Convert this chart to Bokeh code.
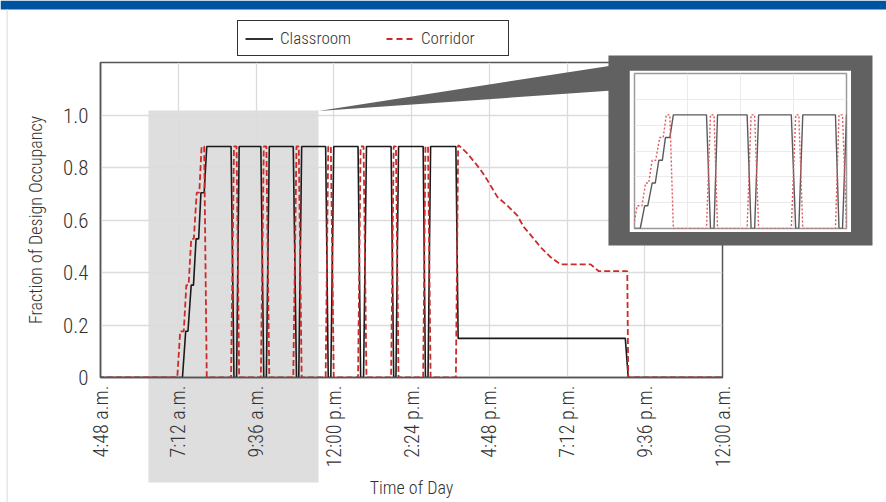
import math
from bokeh.plotting import figure
from bokeh.models import Range1d, FixedTicker, Legend, LegendItem, Grid
from bokeh.embed import file_html
from bokeh.resources import INLINE

# ---------------- data (hour of day, fraction of design occupancy) ----------------
classroom_hours = [0.0, 7.33, 7.43, 7.50, 7.60, 7.67, 7.75, 7.83, 7.90, 8.00, 8.08,
                   8.83, 8.92, 9.00, 9.08,
                   9.75, 9.84, 9.92, 10.01,
                   10.75, 10.85, 10.92, 11.01,
                   11.75, 11.83, 11.91, 12.00,
                   12.75, 12.83, 12.92, 13.01,
                   13.77, 13.85, 13.92, 14.00,
                   14.76, 14.83, 14.91, 14.99,
                   15.77, 15.84, 21.00, 21.09, 24.0]
classroom_frac = [0.0, 0.0, 0.176, 0.176, 0.352, 0.352, 0.528, 0.528, 0.704, 0.704, 0.88,
                  0.88, 0.0, 0.0, 0.88,
                  0.88, 0.0, 0.0, 0.88,
                  0.88, 0.0, 0.0, 0.88,
                  0.88, 0.0, 0.0, 0.88,
                  0.88, 0.0, 0.0, 0.88,
                  0.88, 0.0, 0.0, 0.88,
                  0.88, 0.0, 0.0, 0.88,
                  0.88, 0.149, 0.149, 0.0, 0.0]

corridor_hours = [0.0, 7.17, 7.26, 7.37, 7.45, 7.52, 7.60, 7.68, 7.77, 7.85, 7.92, 8.00, 8.08,
                  8.83, 8.92, 9.00, 9.08,
                  9.75, 9.84, 9.92, 10.01,
                  10.75, 10.85, 10.92, 11.01,
                  11.75, 11.83, 11.91, 12.00,
                  12.75, 12.83, 12.92, 13.01,
                  13.77, 13.85, 13.92, 14.00,
                  14.76, 14.83, 14.91, 14.99,
                  15.77, 15.84, 15.91, 16.12, 16.38, 16.58, 16.74, 17.05, 17.35, 17.66,
                  17.87, 18.13, 18.38, 18.69, 19.00, 19.93, 20.18, 21.06, 21.09, 24.0]
corridor_frac = [0.0, 0.0, 0.176, 0.176, 0.352, 0.352, 0.528, 0.528, 0.704, 0.704, 0.88, 0.88, 0.0,
                 0.0, 0.88, 0.88, 0.0,
                 0.0, 0.88, 0.88, 0.0,
                 0.0, 0.88, 0.88, 0.0,
                 0.0, 0.88, 0.88, 0.0,
                 0.0, 0.88, 0.88, 0.0,
                 0.0, 0.88, 0.88, 0.0,
                 0.0, 0.88, 0.88, 0.0,
                 0.0, 0.885, 0.879, 0.854, 0.815, 0.783, 0.752, 0.688, 0.656, 0.618,
                 0.573, 0.535, 0.497, 0.459, 0.431, 0.431, 0.405, 0.405, 0.0, 0.0]

x_ticks_hours = [4.8, 7.2, 9.6, 12.0, 14.4, 16.8, 19.2, 21.6, 24.0]
x_tick_labels = ["4:48 a.m.", "7:12 a.m.", "9:36 a.m.", "12:00 p.m.", "2:24 p.m.",
                 "4:48 p.m.", "7:12 p.m.", "9:36 p.m.", "12:00 a.m."]
y_ticks = [0.0, 0.2, 0.4, 0.6, 0.8, 1.0]
y_tick_labels = ["0", "0.2", "0.4", "0.6", "0.8", "1.0"]
series_names = ["Classroom", "Corridor"]

# highlighted (zoomed) window, connector and inset frame (hours / fraction units)
zoom_hours = [6.28, 11.53]
zoom_frac = [-0.40, 1.017]
inset_hours = [7.2, 12.0]
inset_grid_hours = [7.2, 8.4, 9.6, 10.8, 12.0]
inset_frame_hours = [20.48, 28.63]
inset_frame_frac = [0.503, 1.227]
connector_hours = [11.53, 20.60, 20.60]
connector_frac = [1.015, 1.189, 1.093]

# ---------------- layout constants (pixels) ----------------
W, H = 886, 502
FL, FR, FT, FB = 100, 722, 62, 377          # main plot frame
X0, X1, Y0, Y1 = 4.8, 24.0, 0.0, 1.2
kx = (X1 - X0) / (FR - FL)
ky = (Y1 - Y0) / (FB - FT)
page_x_range = (X0 - FL * kx, X1 + (W - FR) * kx)
page_y_range = (Y0 - (H - FB) * ky, Y1 + FT * ky)

FONT = ("'Roboto Condensed Light', 'Roboto Condensed', 'Liberation Sans Narrow', "
        "'DejaVu Sans Condensed', 'Noto Sans', sans-serif")
TXT = "#333333"
AX = "#555555"
BLACK = "#1a1a1a"
RED = "#cc2b2b"
DARK = "#616161"


def place(fig, left, top, w, h, z):
    fig.styles = {"position": "absolute", "left": f"{left}px", "top": f"{top}px",
                  "width": f"{w}px", "height": f"{h}px", "z-index": str(z)}


def page_figure(fill_alpha):
    f = figure(width=W, height=H, x_range=Range1d(*page_x_range), y_range=Range1d(*page_y_range),
               output_backend="svg", toolbar_location=None,
               x_axis_location=None, y_axis_location=None,
               min_border_left=0, min_border_right=0, min_border_top=0, min_border_bottom=0)
    f.outline_line_color = None
    f.background_fill_color = "white"
    f.background_fill_alpha = fill_alpha
    f.border_fill_color = "white"
    f.border_fill_alpha = fill_alpha
    f.grid.visible = False
    return f


# ---------------- background layer (under the chart) ----------------
bg = page_figure(1.0)
bg.quad(left=[page_x_range[0]], right=[page_x_range[1]], top=[page_y_range[1]],
        bottom=[page_y_range[1] - 9 * ky], fill_color="#00549f", line_color=None)
bg.quad(left=[page_x_range[0] + 6 * kx], right=[page_x_range[0] + 7.3 * kx],
        top=[page_y_range[1] - 9 * ky], bottom=[page_y_range[0]],
        fill_color="#e2e2e2", line_color=None)
bg.quad(left=[zoom_hours[0]], right=[zoom_hours[1]], top=[zoom_frac[1]], bottom=[zoom_frac[0]],
        fill_color="#dedede", line_color=None)
place(bg, 0, 0, W, H, 0)

# ---------------- main chart ----------------
p = figure(width=W, height=H, x_range=Range1d(X0, X1), y_range=Range1d(Y0, Y1),
           output_backend="svg", toolbar_location=None,
           min_border_left=FL, min_border_right=W - FR, min_border_top=FT, min_border_bottom=H - FB)
p.background_fill_alpha = 0
p.border_fill_alpha = 0
p.outline_line_color = AX
p.outline_line_width = 1.5

p.xaxis.ticker = FixedTicker(ticks=x_ticks_hours)
p.xaxis.major_label_overrides = dict(zip(x_ticks_hours, x_tick_labels))
p.xaxis.major_label_orientation = math.pi / 2
p.yaxis.ticker = FixedTicker(ticks=y_ticks)
p.yaxis.major_label_overrides = dict(zip(y_ticks, y_tick_labels))
for ax in (p.xaxis[0], p.yaxis[0]):
    ax.axis_line_color = AX
    ax.axis_line_width = 1.5
    ax.major_tick_line_color = None
    ax.minor_tick_line_color = None
    ax.major_tick_out = 0
    ax.major_tick_in = 0
    ax.minor_tick_out = 0
    ax.minor_tick_in = 0
    ax.major_label_text_font = FONT
    ax.major_label_text_font_size = "20px"
    ax.major_label_text_color = TXT
    ax.axis_label_text_font = FONT
    ax.axis_label_text_font_size = "18px"
    ax.axis_label_text_font_style = "normal"
    ax.axis_label_text_color = TXT
p.yaxis.major_label_text_font_size = "21px"
p.xaxis.axis_label = "Time of Day"
p.yaxis.axis_label = "Fraction of Design Occupancy"
p.xaxis.major_label_standoff = 8
p.yaxis.major_label_standoff = 12
p.xaxis.axis_label_standoff = 7
p.yaxis.axis_label_standoff = 14
p.xgrid.ticker = FixedTicker(ticks=x_ticks_hours)
p.ygrid.ticker = FixedTicker(ticks=y_ticks)
p.grid.grid_line_color = "#dcdcdc"
p.grid.grid_line_width = 1.3

p.line(classroom_hours, classroom_frac, line_color=BLACK, line_width=1.6)
p.line(corridor_hours, corridor_frac, line_color=RED, line_width=1.8, line_dash="6 3")
place(p, 0, 0, W, H, 1)

# ---------------- foreground layer (connector, inset frame, legend) ----------------
fg = page_figure(0.0)
fg.patch(connector_hours, connector_frac, fill_color=DARK, line_color=None)
fg.quad(left=[inset_frame_hours[0]], right=[inset_frame_hours[1]],
        top=[inset_frame_frac[1]], bottom=[inset_frame_frac[0]], fill_color=DARK, line_color=None)
# legend swatches: hidden copies of the two series (only their key glyph is shown)
sw_class = fg.line(classroom_hours, classroom_frac, line_color=BLACK, line_width=1.8, visible=False)
sw_corr = fg.line(corridor_hours, corridor_frac, line_color=RED, line_width=1.8, line_dash="6 4",
                  visible=False)
LEG_H = 34
legend = Legend(items=[LegendItem(label=series_names[0], renderers=[sw_class]),
                       LegendItem(label=series_names[1], renderers=[sw_corr])],
                orientation="horizontal", location=(237, H - 22 - LEG_H),
                border_line_color="#333333", border_line_width=1, border_line_alpha=1,
                background_fill_color="white", background_fill_alpha=1,
                inactive_fill_alpha=0,
                padding=7, spacing=26, margin=0, glyph_width=28, glyph_height=19,
                label_standoff=7, label_width=80,
                label_text_font=FONT, label_text_font_size="17px", label_text_color=TXT)
fg.add_layout(legend)
place(fg, 0, 0, W, H, 2)

# ---------------- inset ----------------
IW, IH = 222, 162
inset = figure(width=IW, height=IH, x_range=Range1d(*inset_hours), y_range=Range1d(Y0, Y1),
               output_backend="svg", toolbar_location=None,
               x_axis_location=None, y_axis_location=None,
               min_border_left=5, min_border_right=5, min_border_top=3, min_border_bottom=4)
inset.background_fill_color = "white"
inset.border_fill_color = "white"
inset.outline_line_color = "#9a9a9a"
inset.outline_line_width = 1.5
inset.grid.visible = False
inset.add_layout(Grid(dimension=0, ticker=FixedTicker(ticks=inset_grid_hours),
                      grid_line_color="#ebebeb", grid_line_width=1))
inset.add_layout(Grid(dimension=1, ticker=FixedTicker(ticks=y_ticks),
                      grid_line_color="#ebebeb", grid_line_width=1))
inset.line(classroom_hours, classroom_frac, line_color="#5a5a5a", line_width=1.4)
inset.line(corridor_hours, corridor_frac, line_color="#e05a5a", line_width=1.4, line_dash="2 2")
place(inset, 629, 70, IW, IH, 3)

open("out.html", "w").write(file_html([bg, p, fg, inset], INLINE))
